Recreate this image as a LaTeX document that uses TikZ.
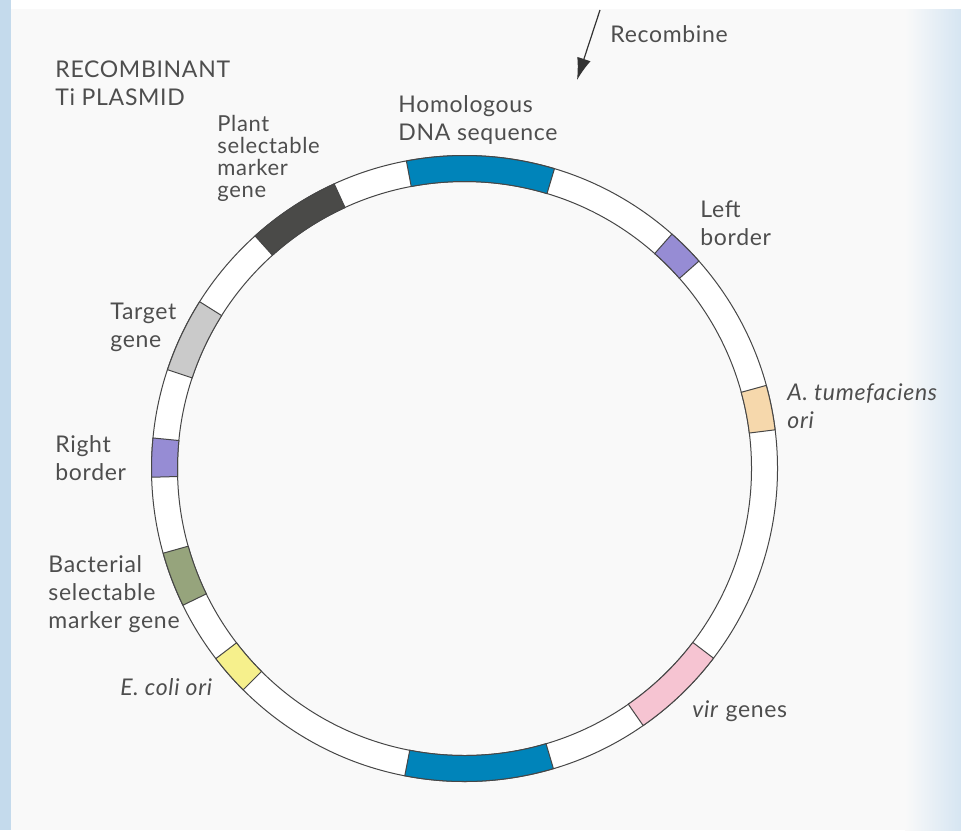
\documentclass[tikz,border=0pt]{standalone}
\usepackage{fontspec}
\setmainfont{Lato}[LetterSpace=3.0]
\usetikzlibrary{arrows.meta}

\definecolor{bgcol}{RGB}{249,249,249}
\definecolor{edgeblue}{RGB}{196,218,236}
\definecolor{inkgray}{RGB}{78,78,78}
\definecolor{ringline}{RGB}{70,70,70}
\definecolor{dnablue}{RGB}{0,132,186}
\definecolor{plantgray}{RGB}{74,74,72}
\definecolor{targetgray}{RGB}{202,202,202}
\definecolor{borderpurple}{RGB}{150,140,212}
\definecolor{tumtan}{RGB}{246,216,172}
\definecolor{bactgreen}{RGB}{150,164,124}
\definecolor{coliyellow}{RGB}{246,240,140}
\definecolor{virpink}{RGB}{246,196,210}

\tikzset{
  genelabel/.style={anchor=north west, inner sep=0pt, align=left, text=inkgray,
    font=\fontsize{11.5}{14}\selectfont},
  plasmid/.style={draw=ringline, line width=0.5pt},
}

\begin{document}
\begin{tikzpicture}[x=0.5pt, y=0.5pt]
	% page
	\fill[bgcol] (0,0) rectangle (961,-830);
	\fill[white] (11,0) rectangle (961,-9);
	\fill[edgeblue] (0,0) rectangle (11,-830);
	\shade[left color=bgcol, right color=edgeblue!70!white] (905,-9) rectangle (961,-830);
	\useasboundingbox (0,0) rectangle (961,-830);

	% plasmid ring and its segments
	\begin{scope}[shift={(464.5,-468.5)}]
		\filldraw[plasmid, fill=white, even odd rule] (0,0) circle (313) (0,0) circle (287);
		\foreach \a/\b/\col in {73.3/100.7/dnablue, 114.6/132/plantgray, 147.8/161.6/targetgray,%
			174.4/181.6/borderpurple, 195.7/205.9/bactgreen, 217.4/225/coliyellow,%
			259/286.5/dnablue, 304.8/322.7/virpink, 7.1/15.4/tumtan, 41.5/48.5/borderpurple}
			\filldraw[plasmid, fill=\col] (\a:313) arc (\a:\b:313) -- (\b:287) arc (\b:\a:287) -- cycle;
	\end{scope}

	% labels
	\node[genelabel] (recombine) at (610,-25) {Recombine};
	\node[genelabel] (title) at (55,-60) {RECOMBINANT\\Ti PLASMID};
	\node[genelabel] (homologous) at (398,-95) {Homologous\\DNA sequence};
	\node[genelabel, font=\fontsize{11}{11}\selectfont] (plant) at (217,-115) {Plant\\selectable\\marker\\gene};
	\node[genelabel] (leftborder) at (700,-200) {Left\\border};
	\node[genelabel, font=\fontsize{11.5}{14}\selectfont\itshape] (tumori) at (787,-383) {A. tumefaciens\\ori};
	\node[genelabel] (target) at (110,-303) {Target\\gene};
	\node[genelabel] (rightborder) at (55,-435) {Right\\border};
	\node[genelabel] (bacterial) at (48,-555) {Bacterial\\selectable\\marker gene};
	\node[genelabel, font=\fontsize{11.5}{14}\selectfont\itshape] (coliori) at (120,-678) {E. coli ori};
	\node[genelabel] (vir) at (692,-700) {\textit{vir} genes};

	% recombination arrow
	\coordinate (recfrom) at (600,-10);
	\coordinate (recto) at (577,-80);
	\draw[black!80, line width=0.6pt, -{Latex[length=11pt,width=7pt]}] (recfrom) -- (recto);
\end{tikzpicture}
\end{document}
